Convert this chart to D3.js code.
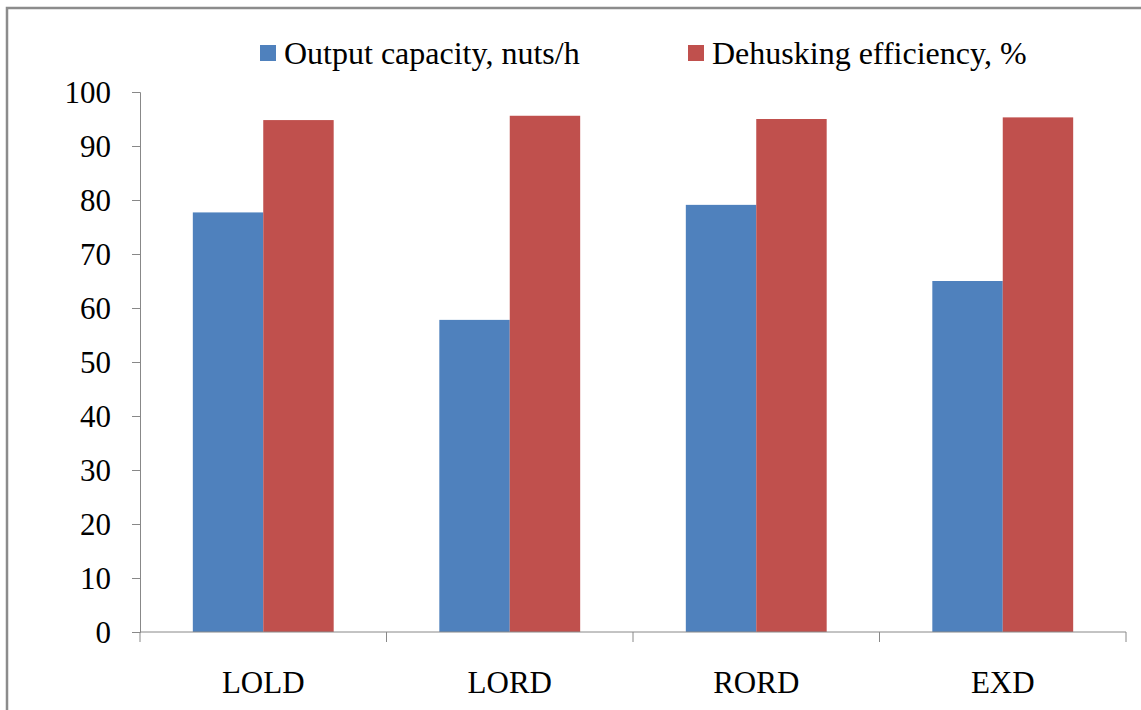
<!DOCTYPE html>
<html>
<head>
<meta charset="utf-8">
<script src="https://cdn.jsdelivr.net/npm/d3@7"></script>
</head>
<body style="margin:0">
<svg id="chart"></svg>
<script>
var categories = ["LOLD", "LORD", "RORD", "EXD"];
var seriesNames = ["Output capacity, nuts/h", "Dehusking efficiency, %"];
var outputCapacity = [77.7, 57.8, 79.1, 65.0];
var dehuskingEfficiency = [94.8, 95.6, 95.0, 95.3];
var yTicks = [0, 10, 20, 30, 40, 50, 60, 70, 80, 90, 100];
var colors = ["#4f81bd", "#c0504d"];

var FONT = "'Liberation Serif'";
var W = 1141, H = 710;
var margin = {top: 92, left: 140, right: 15, bottom: 78};
var width = W - margin.left - margin.right;
var height = H - margin.top - margin.bottom;

var svg = d3.select("#chart").attr("width", W).attr("height", H);

// outer chart border
svg.append("rect")
    .attr("x", 7).attr("y", 8)
    .attr("width", W + 10).attr("height", H + 10)
    .attr("fill", "none")
    .attr("stroke", "#8c8c8c")
    .attr("stroke-width", 2.5);

var root = svg.append("g")
    .attr("transform", "translate(" + margin.left + "," + margin.top + ")");

var x = d3.scaleBand().domain(categories).range([0, width]);
var y = d3.scaleLinear().domain([0, 100]).range([height, 0]);
// Excel-style gap width 150%: bars take up 2/(2+1.5) of a band
var inner = d3.scaleBand().domain([0, 1]).range([0, x.bandwidth() * 2 / 3.5]);
var offset = (x.bandwidth() - inner.range()[1]) / 2;

var rows = categories.map(function (c, i) {
    return {cat: c, vals: [outputCapacity[i], dehuskingEfficiency[i]]};
});

var groups = root.selectAll("g.grp")
    .data(rows)
    .enter().append("g")
    .attr("class", "grp")
    .attr("transform", function (d) { return "translate(" + (x(d.cat) + offset) + ",0)"; });

groups.selectAll("rect")
    .data(function (d) { return d.vals; })
    .enter().append("rect")
    .attr("x", function (d, i) { return inner(i); })
    .attr("width", inner.bandwidth())
    .attr("y", function (d) { return y(d); })
    .attr("height", function (d) { return height - y(d); })
    .attr("fill", function (d, i) { return colors[i]; });

// Y axis
var yAxis = root.append("g")
    .call(d3.axisLeft(y).tickValues(yTicks).tickSize(8).tickPadding(21));
yAxis.attr("font-family", null).attr("font-size", null);
yAxis.selectAll("path, line").attr("stroke", "#888");
yAxis.selectAll("text")
    .attr("font-size", 31)
    .style("font-family", FONT)
    .attr("fill", "#000")
    .attr("dy", "0.34em");

// X axis: ticks on band boundaries
var xAxis = root.append("g")
    .attr("transform", "translate(0," + height + ")")
    .call(d3.axisBottom(x).tickSize(0).tickPadding(0));
xAxis.attr("font-family", null).attr("font-size", null);
xAxis.select("path").attr("stroke", "#888").attr("d", "M0,0H" + width);
xAxis.selectAll("text")
    .attr("font-size", 31)
    .style("font-family", FONT)
    .attr("fill", "#000")
    .attr("y", 61).attr("dy", 0);

var bounds = categories.map(function (c) { return x(c); }).concat([width]);
xAxis.selectAll("line.bound")
    .data(bounds)
    .enter().append("line")
    .attr("class", "bound")
    .attr("x1", function (d) { return d; }).attr("x2", function (d) { return d; })
    .attr("y1", 0).attr("y2", 10)
    .attr("stroke", "#888");

// legend
var legendX = [260, 688];
var legend = svg.selectAll("g.legend")
    .data(seriesNames)
    .enter().append("g")
    .attr("class", "legend")
    .attr("transform", function (d, i) { return "translate(" + legendX[i] + ",45)"; });
legend.append("rect")
    .attr("width", 16).attr("height", 16)
    .attr("fill", function (d, i) { return colors[i]; });
legend.append("text")
    .attr("x", 24).attr("y", 19)
    .attr("font-size", 32)
    .style("font-family", FONT)
    .attr("fill", "#000")
    .text(function (d) { return d; });
</script>
</body>
</html>
